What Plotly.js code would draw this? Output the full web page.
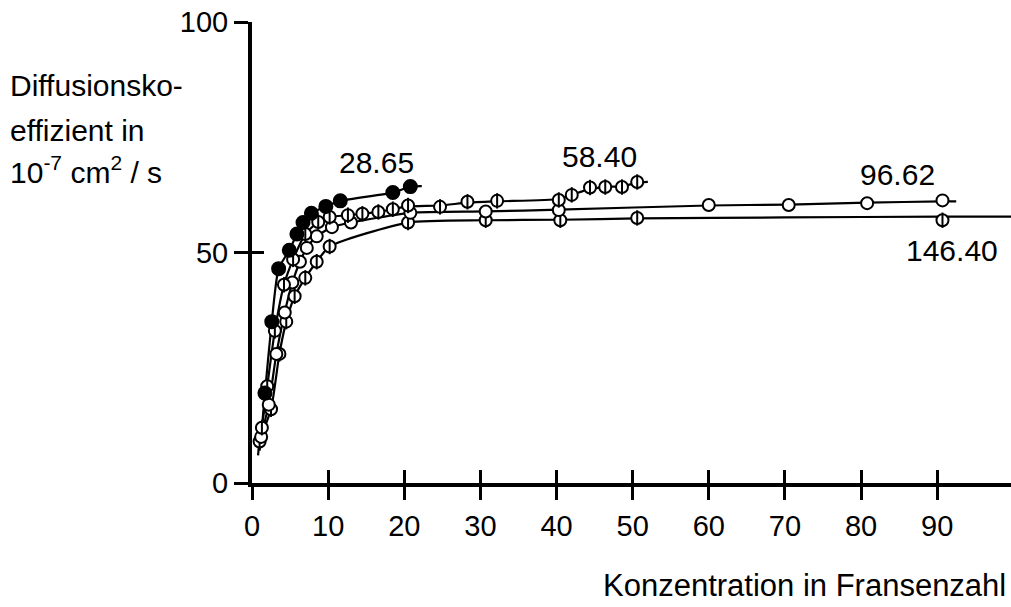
<!DOCTYPE html>
<html>
<head>
<meta charset="utf-8">
<script src="https://cdn.plot.ly/plotly-3.0.1.min.js"></script>
<style>html,body{margin:0;padding:0;background:#fff;}#chart{width:1011px;height:607px;}</style>
</head>
<body>
<div id="chart"></div>
<script>
// Series labels
const seriesNames = ["28.65", "58.40", "96.62", "146.40"];

// Series 28.65 (filled circles)
const xA = [1.7, 2.6, 3.5, 4.9, 5.9, 6.7, 7.8, 9.7, 11.6, 18.5, 20.8];
const yA = [19.5, 35, 46.5, 50.5, 54, 56.5, 58.5, 60, 61.2, 63, 64.3];
const curveXA = [1.2, 1.7, 2.6, 3.5, 4.9, 5.9, 6.7, 7.8, 9.7, 11.6, 18.5, 20.8, 22.3];
const curveYA = [10, 19.5, 35, 46.5, 50.5, 54, 56.5, 58.5, 60, 61.2, 63, 64.3, 64.4];

// Series 58.40
const xB = [1.3, 2.0, 3.0, 4.2, 5.4, 7.0, 8.7, 10.2, 12.6, 14.5, 16.6, 18.5, 20.5, 24.7, 28.3, 32.2, 40.3, 42.0, 44.4, 46.4, 48.6, 50.6];
const yB = [12, 21, 33, 43, 48.5, 54, 56.6, 57.7, 58.1, 58.4, 58.8, 59.4, 60.2, 59.9, 61.0, 61.2, 61.4, 62.5, 64.1, 64.2, 64.2, 65.3];
const curveXB = [1.0, 1.3, 2.0, 3.0, 4.2, 5.4, 7.0, 8.7, 10.2, 12.6, 14.5, 16.6, 18.5, 20.5, 24.7, 28.3, 32.2, 40.3, 42.0, 44.4, 46.4, 48.6, 50.6, 52.0];
const curveYB = [8, 12, 21, 33, 43, 48.5, 54, 56.6, 57.7, 58.1, 58.4, 58.8, 59.4, 60.0, 60.2, 60.8, 61.1, 61.6, 62.5, 63.8, 64.2, 64.4, 65.1, 65.3];

// Series 96.62 (open circles)
const xC = [1.2, 2.2, 3.2, 4.3, 5.3, 6.3, 7.2, 8.5, 10.5, 13, 20.8, 30.7, 40.3, 60, 70.5, 80.8, 90.7];
const yC = [10, 17, 28, 37, 43.5, 48, 51, 53.5, 55.5, 56.5, 58.6, 58.9, 59.2, 60.3, 60.3, 60.7, 61.3];
const curveXC = [1.0, 1.2, 2.2, 3.2, 4.3, 5.3, 6.3, 7.2, 8.5, 10.5, 13, 20.8, 30.7, 40.3, 60, 70.5, 80.8, 90.7, 92.5];
const curveYC = [7, 10, 17, 28, 37, 43.5, 48, 51, 53.5, 55.5, 56.5, 58.6, 58.9, 59.3, 60.2, 60.4, 60.8, 61.1, 61.1];

// Series 146.40
const xD = [1.0, 2.5, 3.6, 4.5, 5.6, 7.0, 8.5, 10.2, 20.5, 30.7, 40.5, 50.6, 90.7];
const yD = [9, 16, 28, 35, 40.5, 44.5, 48, 51.3, 56.5, 57.0, 57.0, 57.5, 57.0];
const curveXD = [0.8, 1.0, 2.5, 3.6, 4.5, 5.6, 7.0, 8.5, 10.2, 20.5, 30.7, 40.5, 50.6, 70, 90.7, 99.7];
const curveYD = [6, 9, 16, 28, 35, 40.5, 44.5, 48, 51.3, 56.5, 57.0, 57.1, 57.4, 57.6, 57.8, 57.8];

// Label anchor positions (data units)
const labelX = [16.3, 45.6, 84.8, 92.0];
const labelY = [69.5, 70.8, 67.0, 50.4];

// Axis ticks
const xTicks = [0, 10, 20, 30, 40, 50, 60, 70, 80, 90];
const yTicks = [0, 50, 100];

// Y axis title lines
const yTitleLines = ["Diffusionsko-", "effizient in", "10<sup>-7</sup> cm<sup>2</sup> / s"];
const yTitleShift = [-63, -108, -148];

const FONT = "'Liberation Sans', Arial, sans-serif";
const lineStyle = {color: "#000", width: 2.2, shape: "spline", smoothing: 0.6};

function curve(x, y) {
  return {x: x, y: y, mode: "lines", line: lineStyle, hoverinfo: "skip", showlegend: false};
}
function markers(x, y, symbol, fill, size) {
  return {x: x, y: y, mode: "markers", showlegend: false, hoverinfo: "skip",
    marker: {symbol: symbol, size: size || 12, color: fill, line: {color: "#000", width: 2}}};
}

const traces = [
  curve(curveXA, curveYA), curve(curveXB, curveYB), curve(curveXC, curveYC), curve(curveXD, curveYD),
  markers(xD, yD, "circle", "#fff"),
  markers(xD, yD, "line-ns-open", "#000", 11),
  markers(xC, yC, "circle", "#fff"),
  markers(xB, yB, "circle", "#fff"),
  markers(xB, yB, "line-ns-open", "#000", 11),
  markers(xA, yA, "circle", "#000", 13),
  {x: [], y: [], xaxis: "x2", yaxis: "y2", mode: "markers", showlegend: false, hoverinfo: "skip"}
];

const tickFont = {family: FONT, size: 29, color: "#000"};
const annotations = seriesNames.map((n, i) => ({
  x: labelX[i], y: labelY[i], xref: "x", yref: "y", text: n, showarrow: false,
  font: {family: FONT, size: 30, color: "#000"}
}));
yTitleLines.forEach((t, i) => annotations.push({
  xref: "paper", yref: "paper", x: 0, y: 1, xanchor: "left", yanchor: "middle",
  text: t, showarrow: false, align: "left", xshift: -244, yshift: yTitleShift[i],
  font: {family: FONT, size: 30, color: "#000"}
}));
annotations.push({
  xref: "paper", yref: "paper", x: 1, y: 0, xanchor: "right", yanchor: "middle",
  text: "Konzentration in Fransenzahl", showarrow: false, yshift: -102, xshift: -3,
  font: {family: FONT, size: 31, color: "#000"}
});

const layout = {
  width: 1011, height: 607,
  margin: {l: 252, r: 0, t: 22, b: 124, pad: 0},
  paper_bgcolor: "#fff", plot_bgcolor: "#fff",
  showlegend: false,
  font: {family: FONT, color: "#000"},
  xaxis: {range: [0, 99.7], tickvals: xTicks, ticktext: xTicks.map(String), ticks: "outside",
    ticklen: 13, tickwidth: 3, tickcolor: "#000", showline: true, linewidth: 4, linecolor: "#000",
    showgrid: false, zeroline: false, tickfont: tickFont, ticklabelstandoff: 1, fixedrange: true},
  yaxis: {range: [0, 100], tickvals: yTicks, ticktext: yTicks.map(String), ticks: "outside",
    ticklen: 14, tickwidth: 3, tickcolor: "#000", showline: true, linewidth: 4, linecolor: "#000",
    showgrid: false, zeroline: false, tickfont: tickFont, fixedrange: true},
  xaxis2: {overlaying: "x", matches: "x", range: [0, 99.7], tickvals: xTicks, ticks: "inside", ticklen: 13,
    tickwidth: 3, tickcolor: "#000", showticklabels: false, showline: false, showgrid: false, zeroline: false},
  yaxis2: {overlaying: "y", matches: "y", range: [0, 100], tickvals: yTicks, ticks: "inside", ticklen: 12,
    tickwidth: 3, tickcolor: "#000", showticklabels: false, showline: false, showgrid: false, zeroline: false},
  annotations: annotations
};

Plotly.newPlot("chart", traces, layout, {displayModeBar: false, staticPlot: true});
</script>
</body>
</html>
